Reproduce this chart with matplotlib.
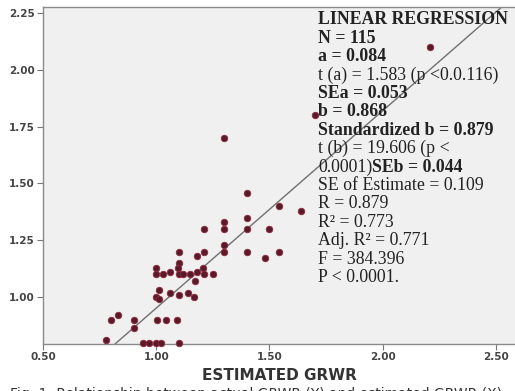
import numpy as np
import matplotlib.pyplot as plt

# estimated GRWR (x) vs actual GRWR (y)
est_grwr = [2.21, 1.70, 1.30, 1.40, 1.54, 1.64, 1.40, 1.30, 1.21, 1.30,
            1.40, 1.50, 1.30, 1.30, 1.40, 1.54, 1.48, 1.21, 1.18, 1.10,
            1.10, 1.095, 1.205, 1.00,
            1.00, 1.03, 1.06, 1.10, 1.12, 1.15, 1.18, 1.21, 1.25,
            1.17, 1.01, 1.06, 1.10, 1.14, 1.165, 1.00, 1.01,
            0.80, 0.83, 0.90, 0.90, 1.005, 1.045, 1.09,
            0.78, 0.94, 0.97, 1.00, 1.02, 1.10]
act_grwr = [2.10, 1.80, 1.70, 1.46, 1.40, 1.38, 1.35, 1.33, 1.30, 1.30,
            1.30, 1.30, 1.23, 1.20, 1.20, 1.20, 1.17, 1.20, 1.18, 1.20,
            1.15, 1.13, 1.13, 1.13,
            1.10, 1.10, 1.11, 1.10, 1.10, 1.10, 1.11, 1.10, 1.10,
            1.07, 1.03, 1.02, 1.01, 1.02, 1.00, 1.00, 0.99,
            0.90, 0.92, 0.90, 0.865, 0.90, 0.90, 0.90,
            0.81, 0.80, 0.80, 0.80, 0.80, 0.80]

a_coef = 0.084
b_coef = 0.868

xticks = [0.5, 1.0, 1.5, 2.0, 2.5]
yticks = [1.00, 1.25, 1.50, 1.75, 2.00, 2.25]

stats_lines = [
    ("LINEAR REGRESSION", "bold"),
    ("N = 115", "bold"),
    ("a = 0.084", "bold"),
    ("t (a) = 1.583 (p <0.0.116)", "normal"),
    ("SEa = 0.053", "bold"),
    ("b = 0.868", "bold"),
    ("Standardized b = 0.879", "bold"),
    ("t (b) = 19.606 (p <", "normal"),
    (None, None),  # mixed line drawn separately
    ("SE of Estimate = 0.109", "normal"),
    ("R = 0.879", "normal"),
    ("R\u00b2 = 0.773", "normal"),
    ("Adj. R\u00b2 = 0.771", "normal"),
    ("F = 384.396", "normal"),
    ("P < 0.0001.", "normal"),
]

W, H = 515, 391
fig = plt.figure(figsize=(W / 100, H / 100), dpi=100)
fig.patch.set_facecolor("white")
ax = fig.add_axes([43 / W, 47 / H, 1 - 43 / W, 337 / H])
ax.set_facecolor("#f0f0f0")

ax.set_xlim(0.5, 2.584)
ax.set_ylim(0.794, 2.276)

xs = np.linspace(0.5, 2.6, 50)
ax.plot(xs, a_coef + b_coef * xs, color="#707070", lw=1.0, zorder=2)

ax.scatter(est_grwr, act_grwr, s=22, color="#5a1a2c", edgecolors="#8e2a3a",
           linewidths=0.6, zorder=3, clip_on=False)

ax.set_xticks(xticks)
ax.set_xticklabels(["%.2f" % v for v in xticks])
ax.set_yticks(yticks)
ax.set_yticklabels(["%.2f" % v for v in yticks])
ax.tick_params(axis="both", direction="out", length=4, width=0.8,
               color="#777777", labelsize=7.5, labelcolor="#444444", pad=2)
for lab in ax.get_xticklabels() + ax.get_yticklabels():
    lab.set_fontweight("bold")

for side in ["left", "bottom", "top"]:
    ax.spines[side].set_color("#8a8a8a")
    ax.spines[side].set_linewidth(1.0)
ax.spines["right"].set_visible(False)

ax.set_xlabel("ESTIMATED GRWR", fontsize=11, fontweight="bold",
              color="#333333", labelpad=4)

# regression statistics, one line at a time
serif = "Liberation Serif"
x0 = 318
y_top = 20
step = 18.4
for i, (txt, wt) in enumerate(stats_lines):
    ypix = y_top + i * step
    if txt is None:
        t = fig.text(x0 / W, 1 - ypix / H, "0.0001)", fontsize=12.8,
                     family=serif, color="#222222", va="center")
        fig.canvas.draw()
        bb = t.get_window_extent()
        fig.text(bb.x1 / W, 1 - ypix / H, "SEb = 0.044", fontsize=12.8,
                 family=serif, fontweight="bold", color="#222222", va="center")
        continue
    fig.text(x0 / W, 1 - ypix / H, txt, fontsize=12.8, family=serif,
             fontweight=wt, color="#222222", va="center")

# figure caption, cut off by the bottom edge as in the source image
fig.text(10 / W, 1 - 394 / H,
         "Fig. 1: Relationship between actual GRWR (Y) and estimated GRWR (X)",
         fontsize=10, color="#333333", va="center")

fig.savefig("out.png", dpi=100)
